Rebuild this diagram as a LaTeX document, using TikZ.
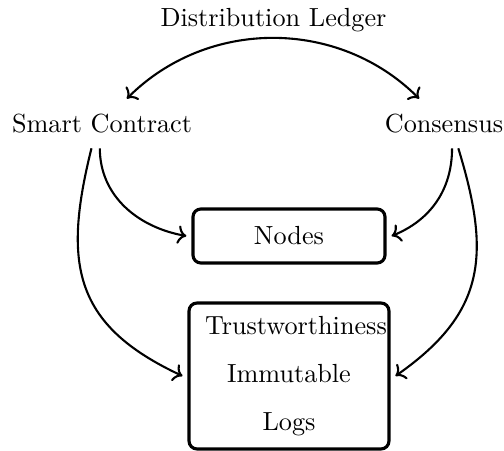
\documentclass[tikz,border=0pt]{standalone}
\usetikzlibrary{arrows.meta}
\begin{document}
\begin{tikzpicture}[x=0.3817pt,y=0.3817pt,
  lbl/.style={inner sep=3.33pt, outer sep=2.5pt},
  box/.style={draw, very thick, rounded corners=3pt, outer sep=2.5pt},
  conn/.style={thick,->}]
\useasboundingbox (0,0) rectangle (504,-451);
\node[lbl] (dl) at (273.5,-20) {Distribution Ledger};
\node[lbl] (sc) at (102,-123.5) {Smart Contract};
\node[lbl] (cons) at (444,-123.5) {Consensus};
\node[box, minimum width=73.3pt, minimum height=20.6pt, inner sep=0pt] (nodes) at (289,-236) {Nodes};
\node[box, text width=64.1pt, inner xsep=6.1pt, minimum height=55.7pt, align=center] (logs) at (289,-376)
  {\hbox{Trustworthiness}\\[6.3pt] Immutable\\[6.3pt] Logs};
\draw[conn,<->] (sc.45) to[out=45,in=135] (cons.135);
\draw[conn] (sc.265) to[out=-90,in=170,looseness=1] (nodes.west);
\draw[conn] (sc.247) to[out=-104,in=155,looseness=1.25] (logs.west);
\draw[conn] (cons.288) to[out=-90,in=22,looseness=1] (nodes.east);
\draw[conn] (cons.300) to[out=-73,in=35,looseness=1.2] (logs.east);
\end{tikzpicture}
\end{document}
